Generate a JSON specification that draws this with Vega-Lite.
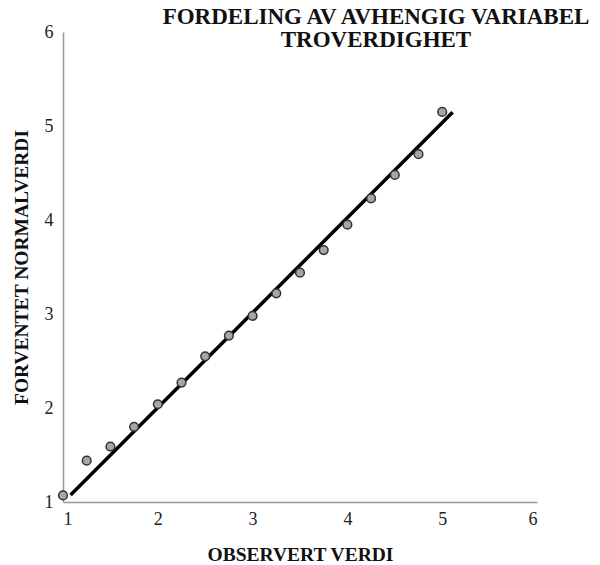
{
  "$schema": "https://vega.github.io/schema/vega-lite/v6.json",
  "width": 474,
  "height": 470,
  "autosize": {"type": "none"},
  "padding": {"left": 63, "top": 32, "right": 63, "bottom": 63},
  "background": "white",
  "config": {"view": {"stroke": null}},
  "title": {
    "text": ["FORDELING AV AVHENGIG VARIABEL", "TROVERDIGHET"],
    "font": "Liberation Serif",
    "fontSize": 23,
    "fontWeight": "bold",
    "color": "#111",
    "anchor": "middle",
    "dx": 76,
    "offset": -29,
    "lineHeight": 23
  },
  "datasets": {
    "points": [
      {"x": 1.0, "y": 1.07},
      {"x": 1.25, "y": 1.44},
      {"x": 1.5, "y": 1.59},
      {"x": 1.75, "y": 1.8},
      {"x": 2.0, "y": 2.04},
      {"x": 2.25, "y": 2.27},
      {"x": 2.5, "y": 2.55},
      {"x": 2.75, "y": 2.77},
      {"x": 3.0, "y": 2.98},
      {"x": 3.25, "y": 3.22},
      {"x": 3.5, "y": 3.44},
      {"x": 3.75, "y": 3.68},
      {"x": 4.0, "y": 3.95},
      {"x": 4.25, "y": 4.23},
      {"x": 4.5, "y": 4.48},
      {"x": 4.75, "y": 4.7},
      {"x": 5.0, "y": 5.15}
    ],
    "line": [
      {"x": 1.08, "y": 1.074},
      {"x": 5.11, "y": 5.146}
    ]
  },
  "layer": [
    {
      "data": {"name": "line"},
      "mark": {"type": "line", "color": "#000", "strokeWidth": 3.5},
      "encoding": {
        "x": {
          "field": "x", "type": "quantitative",
          "scale": {"domain": [1, 6], "nice": false, "zero": false},
          "axis": {
            "title": "OBSERVERT VERDI",
            "values": [1, 2, 3, 4, 5, 6],
            "format": "d",
            "grid": false, "ticks": false,
            "domainColor": "#999", "domainWidth": 1.5,
            "labelFont": "Liberation Serif", "labelFontSize": 18, "labelColor": "#222",
            "labelPadding": 8,
            "titleFont": "Liberation Serif", "titleFontSize": 19.5, "titleFontWeight": "bold", "titleColor": "#111",
            "titlePadding": 17
          }
        },
        "y": {
          "field": "y", "type": "quantitative",
          "scale": {"domain": [1, 6], "nice": false, "zero": false},
          "axis": {
            "title": "FORVENTET NORMALVERDI",
            "values": [1, 2, 3, 4, 5, 6],
            "format": "d",
            "grid": false, "ticks": false,
            "domainColor": "#999", "domainWidth": 1.5,
            "labelFont": "Liberation Serif", "labelFontSize": 18, "labelColor": "#222",
            "labelPadding": 10,
            "titleFont": "Liberation Serif", "titleFontSize": 19.5, "titleFontWeight": "bold", "titleColor": "#111",
            "titlePadding": 13
          }
        }
      }
    },
    {
      "data": {"name": "points"},
      "mark": {"type": "point", "filled": true, "fill": "#a6a6a6", "stroke": "#333", "strokeWidth": 1.5, "size": 75, "opacity": 1},
      "encoding": {
        "x": {"field": "x", "type": "quantitative"},
        "y": {"field": "y", "type": "quantitative"}
      }
    }
  ]
}
